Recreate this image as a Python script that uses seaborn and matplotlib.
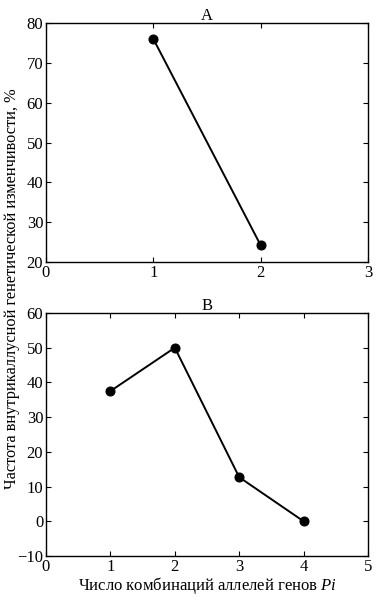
import matplotlib
matplotlib.use("Agg")
import matplotlib.pyplot as plt
import seaborn as sns
import pandas as pd

# Data
a_x = [1, 2]
a_y = [76.0, 24.2]
b_x = [1, 2, 3, 4]
b_y = [37.5, 50.0, 12.7, 0.0]
a_title = "A"
b_title = "B"
y_label = "Частота внутрикаллусной генетической изменчивости, %"
x_label = "Число комбинаций аллелей генов $\\it{Pi}$"

sns.set_theme(style="white")
plt.rcParams['font.family'] = ['Liberation Serif', 'DejaVu Serif']
plt.rcParams['mathtext.fontset'] = 'custom'
plt.rcParams['mathtext.it'] = 'Liberation Serif:italic'
plt.rcParams['mathtext.rm'] = 'Liberation Serif'
plt.rcParams['text.color'] = 'black'
plt.rcParams['axes.labelcolor'] = 'black'
plt.rcParams['axes.titlecolor'] = 'black'

fig = plt.figure(figsize=(3.78, 5.97), dpi=100)
W, H = 378, 597
ax1 = fig.add_axes([46 / W, 1 - 262 / H, (368 - 46) / W, (262 - 23) / H])
ax2 = fig.add_axes([46 / W, 1 - 556 / H, (368 - 46) / W, (556 - 313) / H])

dfa = pd.DataFrame({"x": a_x, "y": a_y})
dfb = pd.DataFrame({"x": b_x, "y": b_y})

for ax, df, title, xlim, ylim, yticks in [
    (ax1, dfa, a_title, (0, 3), (20, 80), range(20, 81, 10)),
    (ax2, dfb, b_title, (0, 5), (-10, 60), range(-10, 61, 10)),
]:
    sns.lineplot(data=df, x="x", y="y", ax=ax, color="black", linewidth=1.4,
                 marker="o", markersize=6.5, markeredgecolor="black",
                 markerfacecolor="black")
    ax.set_xlim(*xlim)
    ax.set_ylim(*ylim)
    ax.set_xticks(range(xlim[0], xlim[1] + 1))
    ax.set_yticks(list(yticks))
    ax.tick_params(direction="in", length=3.5, width=0.8, labelsize=12,
                   top=True, right=True, bottom=True, left=True, pad=2,
                   colors="black")
    ax.set_title(title, fontsize=12, pad=2, color="black")
    ax.set_xlabel("")
    ax.set_ylabel("")
    for s in ax.spines.values():
        s.set_edgecolor("black")
        s.set_linewidth(1.0)
        s.set_visible(True)

ax2.set_xlabel(x_label, fontsize=12, labelpad=0, color="black")
fig.text(12 / W, 1 - 289 / H, y_label, rotation=90, ha="center", va="center",
         fontsize=11.8, color="black")

fig.savefig("out.png", dpi=100)
